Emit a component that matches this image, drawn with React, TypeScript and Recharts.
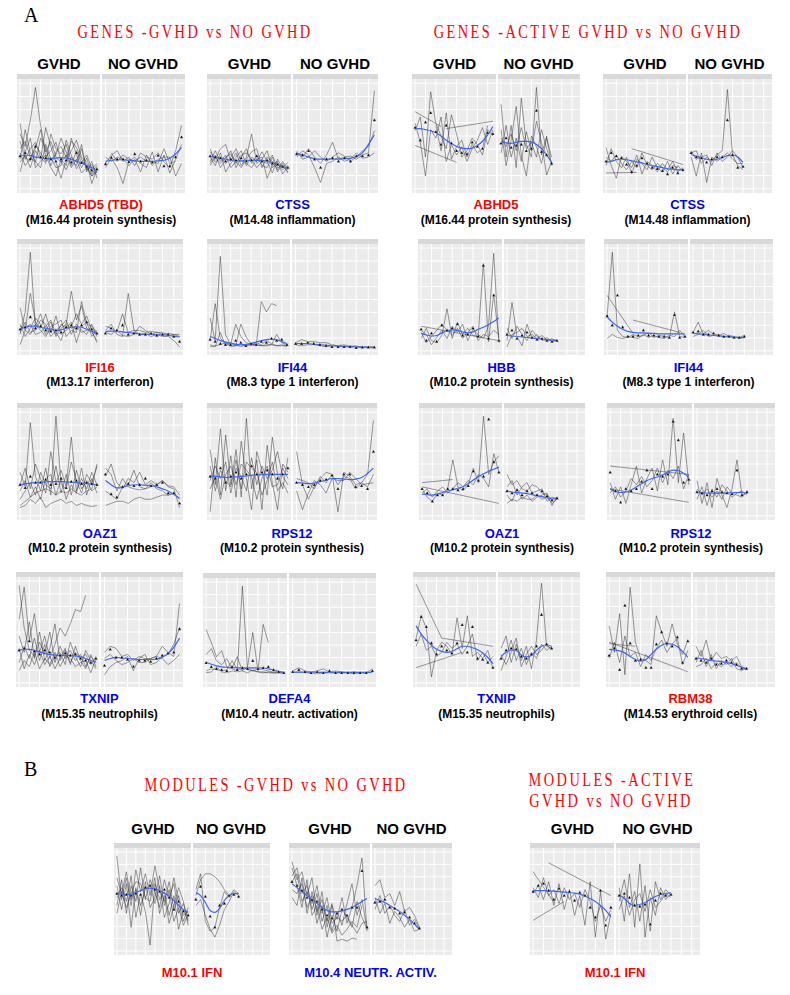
import React from 'react';
import { ComposedChart, Line, XAxis, YAxis, CartesianGrid } from 'recharts';

type Series = (number | null)[];
type FacetData = { lines: Series[]; mean: Series; fit: Series };

const _ = null;

// Expression on a 0-10 scale, one value per visit (index = visit slot).
// ---- ABHD5 (GVHD vs NO GVHD)
const abhd5GLines: Series[] = [
  [5.2, 4.0, 6.5, 9.6, 6.0, 3.5, 4.5, 3.0, 2.5, 3.2, 2.0, 2.8, 1.5, 2.0, 1.2, 1.6],
  [3.8, 4.5, 3.0, 2.5, 4.8, 3.8, 2.2, 3.5, 4.0, 3.0, 4.5, 3.9, 2.8, 2.0, 1.8, 1.3],
  [2.5, 3.2, 2.0, 3.6, 2.8, 5.8, 4.0, 2.5, 1.0, 2.8, 3.6, 4.6, 3.0, 2.5, 0.5, 1.9],
  [4.5, 2.8, 3.8, 4.4, 3.0, 2.4, 5.2, 3.8, 3.3, 4.2, 2.6, 2.2, 3.8, 1.8, 2.3, 1.5],
  [1.6, 3.5, 4.8, 2.0, 2.6, 3.2, 2.0, 1.2, 2.8, 2.2, 4.8, 3.2, 2.0, 2.9, 1.4, 2.2],
  [3.4, 2.2, 2.9, 3.8, 5.6, 3.0, 3.6, 4.4, 2.6, 1.8, 3.0, 2.5, 4.2, 1.6, 2.6, 1.0],
  [2.8, 5.6, 3.4, 2.6, 2.0, 4.2, 2.8, 3.2, 4.8, 3.5, 2.2, 3.6, 2.4, 3.2, 1.9, 2.4],
  [6.2, 3.0, 2.6, 4.2, 3.4, 2.6, 3.0, 2.0, 2.2, 4.6, 3.2, 1.9, 2.6, 2.2, 1.2, 2.0],
];
const abhd5GMean: Series = [3.1, 3.4, 2.85, 4.0, 3.0, 2.9, 2.8, 2.6, 2.8, 2.7, 2.5, 3.4, 2.45, 2.1, 1.75, 1.85];
const abhd5GFit: Series = [3.15, 3.2, 3.15, 3.0, 2.95, 2.85, 2.85, 2.9, 2.95, 2.9, 2.8, 2.6, 2.45, 2.2, 2.0, 1.6];
const abhd5NLines: Series[] = [
  [2.4, 3.2, 3.6, 2.6, 3.0, 2.2, 3.4, 3.0, 2.8, 3.4, 2.5, 2.0, 3.6, 6.0],
  [2.0, 2.9, 2.0, 0.5, 2.6, 3.0, 2.4, 2.0, 3.5, 1.6, 3.2, 1.5, 2.8, 4.2],
  [3.0, 2.6, 3.0, 2.8, 2.2, 2.8, 1.6, 3.2, 2.2, 2.8, 3.0, 3.0, 1.2, 2.4],
  [_, 3.4, 2.6, 3.2, 2.8, 2.6, 3.0, 2.6, 2.6, 2.4, 3.8, 2.4, 2.6, _],
];
const abhd5NMean: Series = [2.35, 2.95, 2.8, 2.8, 2.55, 3.3, 2.6, 2.7, 2.5, 3.15, 2.15, 2.15, 3.0, 4.9];
const abhd5NFit: Series = [2.6, 2.7, 2.75, 2.75, 2.7, 2.65, 2.6, 2.6, 2.6, 2.65, 2.7, 2.9, 3.3, 3.9];

// ---- CTSS
const ctssGLines: Series[] = [
  [3.5, 2.8, 3.8, 4.2, 2.6, 3.4, 2.2, 3.0, 5.2, 2.4, 2.8, 3.6, 2.0, 2.5, 1.8, 2.2],
  [2.4, 3.2, 2.0, 2.8, 3.6, 2.0, 3.0, 3.8, 2.4, 3.2, 2.2, 2.0, 3.0, 1.6, 2.4, 1.5],
  [3.0, 2.2, 3.4, 1.6, 2.4, 3.0, 3.6, 2.2, 3.0, 2.6, 3.5, 2.6, 1.5, 2.8, 2.0, 2.5],
  [2.6, 3.6, 2.6, 3.2, 2.0, 2.6, 2.0, 2.8, 3.5, 3.8, 2.0, 3.0, 2.6, 1.8, 2.6, 1.8],
  [3.8, 2.5, 3.0, 2.4, 3.0, 3.8, 2.6, 2.4, 2.0, 2.8, 3.0, 1.0, 2.2, 2.6, 1.4, 2.1],
  [2.2, 3.0, 2.4, 3.0, 3.3, 2.4, 3.2, 3.4, 2.8, 2.0, 2.6, 2.4, 3.2, 2.0, 2.2, 1.6],
];
const ctssGMean: Series = [3.1, 3.0, 2.9, 2.6, 2.8, 2.7, 2.9, 2.6, 2.7, 3.1, 2.6, 2.7, 2.4, 2.3, 2.1, 2.0];
const ctssGFit: Series = [3.1, 3.0, 2.9, 2.8, 2.7, 2.65, 2.65, 2.7, 2.7, 2.7, 2.7, 2.6, 2.5, 2.3, 2.1, 1.9];
const ctssNLines: Series[] = [
  [3.4, 3.0, 3.8, 3.0, 2.4, 3.2, 4.4, 2.8, 3.0, 3.1, 2.8, 3.2, 3.4, 9.3],
  [3.0, 3.6, 3.2, 2.0, 0.6, 2.4, 2.6, 3.0, 2.6, 2.8, 3.4, 2.9, 3.0, 3.4],
  [3.6, 2.8, 3.0, 3.6, 3.0, 2.6, 3.0, 3.4, 3.1, 2.6, 3.0, 3.6, 4.0, 5.5],
];
const ctssNMean: Series = [3.3, 3.2, 3.6, 2.8, 2.0, 2.8, 2.9, 2.6, 2.9, 2.6, 3.1, 3.1, 3.2, 6.5];
const ctssNFit: Series = [3.35, 3.2, 3.0, 2.85, 2.8, 2.8, 2.8, 2.8, 2.85, 2.9, 3.05, 3.4, 4.2, 5.1];

// ---- ABHD5 (active GVHD)
const abhd5aGLines: Series[] = [
  [7.3, _, _, _, _, 5.9],
  [4.1, _, _, _, _, _, _, _, 2.5],
  [_, _, _, _, _, _, 5.7, _, _, _, _, _, _, _, _, 6.4],
  [5.5, 6.8, 3.0, 9.2, 6.2, 5.0, 3.8, 7.0, 5.2, 3.0, 3.6, 4.8, 4.2, 3.2, 5.6, 5.0],
  [6.2, 4.4, 1.2, 5.6, 4.8, 6.8, 2.6, 4.2, 3.2, 4.0, 2.6, 3.8, 4.6, 5.8, 4.2, 5.6],
  [_, _, _, _, 6.0, 3.6, 7.2, 2.8, 4.0, 4.6, 3.0, 4.2, 3.4, 3.8, 6.0],
];
const abhd5aGMean: Series = [5.8, 4.6, 6.3, 7.2, 5.4, 4.2, 6.0, 4.3, 3.6, 3.4, 3.3, 4.4, 4.0, 3.8, 5.3, 5.2];
const abhd5aGFit: Series = [5.7, 5.7, 5.6, 5.5, 5.3, 5.0, 4.6, 4.3, 4.0, 3.85, 3.8, 3.85, 4.1, 4.5, 5.1, 5.9];
const abhd5aNLines: Series[] = [
  [8.0, 3.0, 6.0, 2.0, 8.6, 4.2, 3.0, 9.6, 3.2, 5.0, 2.2],
  [5.6, 2.2, 4.6, 7.8, 3.2, 1.2, 5.0, 4.0, 2.4, 4.8, 3.0],
  [3.4, 6.0, 3.0, 4.8, 2.6, 5.4, 3.6, 6.4, 4.4, 1.3, 2.6],
  [4.8, 4.0, 5.2, 3.6, 5.8, 3.8, 4.4, 3.0, 5.6, 3.8, 2.4],
];
const abhd5aNMean: Series = [4.3, 4.8, 3.9, 4.1, 4.2, 3.6, 3.8, 7.4, 3.5, 3.2, 2.4];
const abhd5aNFit: Series = [4.5, 4.35, 4.3, 4.4, 4.5, 4.5, 4.45, 4.2, 3.8, 3.2, 2.5];

// ---- CTSS (active GVHD)
const ctssaGLines: Series[] = [
  [1.5, _, _, _, _, _, 1.55],
  [_, _, _, _, _, 3.8, _, _, _, _, _, _, _, _, _, 2.3],
  [3.9, 2.2, 1.0, 3.1, 2.6, 2.0, 3.2, 1.4, 2.6, 2.2, 1.6, 2.4, 1.8, 2.6, 1.6, 2.0],
  [2.2, 3.8, 2.6, 2.0, 3.0, 1.4, 2.8, 2.4, 1.8, 3.0, 2.0, 1.6, 2.6, 1.4, 2.2, 1.6],
  [3.0, 2.6, 3.2, 2.4, 1.8, 2.6, 2.0, 3.4, 2.2, 1.8, 2.4, 2.0, 1.6, 2.2, 2.0],
];
const ctssaGMean: Series = [2.6, 3.4, 3.1, 2.9, 2.3, 1.6, 2.2, 2.9, 2.4, 2.0, 1.9, 1.7, 1.4, 2.0, 1.5, 1.8];
const ctssaGFit: Series = [2.5, 2.6, 2.75, 2.8, 2.75, 2.65, 2.55, 2.45, 2.3, 2.2, 2.1, 2.0, 1.9, 1.85, 1.8, 1.8];
const ctssaNLines: Series[] = [
  [3.4, 3.6, 2.4, 3.0, 2.6, 3.2, 3.6, 9.4, 3.2, 2.2, 1.8],
  [3.0, 1.2, 3.4, 0.6, 3.0, 2.6, 3.0, 3.4, 2.8, 2.4, 2.4],
  [3.6, 2.8, 3.0, 3.2, 2.2, 3.4, 2.6, 3.0, 3.6, 3.0, 2.0],
];
const ctssaNMean: Series = [3.4, 3.0, 2.9, 2.5, 2.8, 3.0, 3.0, 6.5, 3.2, 2.0, 2.1];
const ctssaNFit: Series = [3.25, 3.1, 2.95, 2.8, 2.75, 2.8, 2.95, 3.15, 3.2, 3.0, 2.5];

// ---- IFI16
const ifi16GLines: Series[] = [
  [1.6, 3.8, 9.6, 2.4, 3.6, 2.0, 2.8, 1.4, 2.2, 2.6, 5.8, 3.0, 4.4, 2.2, 1.8, 1.0],
  [4.2, 2.0, 5.6, 2.8, 2.2, 3.6, 1.8, 3.4, 1.6, 2.0, 2.4, 3.6, 2.6, 3.4, 2.0, 0.8],
  [2.6, 1.4, 2.2, 3.2, 2.6, 1.6, 2.4, 2.6, 3.0, 1.4, 2.0, 1.8, 4.8, 2.6, 2.4, 1.8],
  [1.8, 2.8, 1.8, 2.0, 3.0, 2.6, 1.4, 2.0, 2.4, 3.0, 1.6, 2.6, 2.0, 1.6, 2.6, 1.4],
  [2.4, 2.2, 2.6, 1.6, 1.8, 2.4, 3.0, 1.6, 2.6, 2.2, 2.8, 0.8, 2.4, 2.8, 1.4, 2.0],
  [0.6, 2.0, 1.6, 2.6, 2.0, 1.4, 2.2, 1.8, 1.0, 2.6, 2.2, 2.4, 1.8, 2.0, 2.2, 1.6],
];
const ifi16GMean: Series = [2.1, 2.3, 3.3, 2.2, 2.4, 2.0, 1.9, 2.0, 1.8, 2.3, 2.5, 2.2, 2.5, 2.8, 2.1, 1.7];
const ifi16GFit: Series = [2.1, 2.3, 2.4, 2.4, 2.3, 2.2, 2.1, 2.0, 2.05, 2.2, 2.3, 2.35, 2.3, 2.1, 1.9, 1.7];
const ifi16NLines: Series[] = [
  [2.4, 2.2, 1.8, 3.6, 1.8, 2.0, 2.0, 1.8, 1.9, 1.8, 1.6, 1.7, 1.6, 1.6],
  [2.0, 2.6, 1.6, 1.4, 5.6, 2.0, 1.6, 1.7, 1.4, 1.6, 1.4, 1.4, 1.0, 0.4],
  [1.8, 1.6, 2.0, 1.5, 1.4, 1.6, 2.4, 2.0, 1.6, 1.8, 1.8, 1.5, 1.6, 1.4],
];
const ifi16NMean: Series = [1.7, 2.2, 2.0, 2.5, 1.6, 1.7, 1.6, 1.6, 1.7, 1.5, 1.6, 1.6, 1.4, 0.9];
const ifi16NFit: Series = [1.9, 1.92, 1.9, 1.85, 1.8, 1.72, 1.65, 1.6, 1.6, 1.58, 1.55, 1.5, 1.42, 1.35];

// ---- IFI44
const ifi44GLines: Series[] = [
  [3.2, 1.0, 9.2, 1.6, 0.6, 0.5, 2.6, 1.4, 0.6, 0.6, 0.5, 0.5, 0.6, 0.5, 0.5, 0.5],
  [1.0, 4.6, 1.2, 0.8, 0.6, 2.6, 1.4, 0.8, 0.6, 0.5, 4.8, 3.8, 4.6, 4.4],
  [0.4, 0.5, 0.6, 0.8, 0.4, 0.5, 0.6, 0.5, 0.7, 0.6, 0.5, 0.6, 0.6, 1.6, 0.8, 0.5],
  [0.6, 0.4, 1.8, 0.5, 0.8, 0.6, 0.4, 0.6, 0.5, 0.8, 0.6, 1.0, 0.7, 0.5, 0.6, 0.4],
];
const ifi44GMean: Series = [1.1, 0.9, 0.7, 0.6, 0.6, 1.0, 0.8, 0.5, 0.7, 0.6, 0.9, 0.8, 1.2, 1.0, 1.1, 0.6];
const ifi44GFit: Series = [1.4, 1.2, 1.0, 0.85, 0.75, 0.65, 0.6, 0.62, 0.7, 0.85, 1.0, 1.1, 1.15, 1.1, 0.9, 0.7];
const ifi44NLines: Series[] = [
  [0.8, 1.1, 0.9, 0.9, 0.8, 0.8, 0.6, 0.5, 0.4, 0.5, 0.4, 0.4, 0.3, 0.3],
  [0.6, 0.5, 0.6, 0.6, 0.5, 0.4, 0.5, 0.5, 0.6, 0.4, 0.5, 0.3, 0.4, 0.4],
];
const ifi44NMean: Series = [0.7, 0.7, 0.8, 0.7, 0.6, 0.5, 0.4, 0.4, 0.4, 0.4, 0.3, 0.35, 0.35, 0.35];
const ifi44NFit: Series = [0.72, 0.72, 0.7, 0.65, 0.6, 0.55, 0.5, 0.46, 0.43, 0.4, 0.38, 0.37, 0.36, 0.35];

// ---- HBB (active GVHD)
const hbbaGLines: Series[] = [
  [2.4, _, _, _, _, _, _, _, _, _, _, _, _, _, _, 1.0],
  [1.2, 2.2, 1.0, 0.8, 1.5, 4.1, 1.2, 2.8, 1.6, 2.2, 1.5, 1.4, 8.5, 0.9, 5.5, 1.2],
  [2.0, 1.6, 0.6, 1.3, 2.0, 1.2, 2.4, 1.8, 2.6, 1.0, 2.1, 1.6, 1.2, 2.4, 9.5, 0.8],
  [1.8, 0.8, 1.4, 2.0, 2.6, 2.0, 1.5, 2.2, 1.2, 1.8, 2.4, 1.0, 1.6, 1.4, 2.0, 1.6],
];
const hbbaGMean: Series = [2.1, 1.0, 1.7, 0.9, 2.5, 2.0, 2.2, 2.6, 1.5, 1.6, 2.2, 1.4, 8.3, 1.2, 5.4, 1.0];
const hbbaGFit: Series = [1.7, 1.55, 1.45, 1.5, 1.75, 1.95, 2.05, 2.0, 1.85, 1.75, 1.85, 2.1, 2.3, 2.55, 2.85, 3.2];
const hbbaNLines: Series[] = [
  [1.0, 4.7, 1.4, 0.5, 2.6, 1.2, 1.6, 1.0, 1.3, 0.9, 1.0],
  [2.2, 1.2, 2.4, 1.6, 1.0, 2.0, 1.4, 1.1, 1.0, 1.2, 0.9],
  [0.4, 1.6, 1.8, 2.2, 1.4, 1.6, 1.2, 1.5, 1.1, 1.0, 1.1],
];
const hbbaNMean: Series = [1.6, 2.0, 1.2, 1.5, 1.8, 1.3, 1.1, 1.2, 1.0, 0.9, 1.0];
const hbbaNFit: Series = [1.5, 1.45, 1.4, 1.35, 1.3, 1.25, 1.2, 1.15, 1.1, 1.05, 1.0];

// ---- IFI44 (active GVHD)
const ifi44aGLines: Series[] = [
  [5.4, _, _, _, _, 1.7],
  [_, _, _, _, _, 3.0, _, _, _, _, _, _, _, _, 1.8],
  [3.4, 9.6, 2.0, 1.4, 1.3, 1.6, 1.4, 1.5, 1.8, 1.3, 1.5, 1.4, 1.3, 3.8, 1.4, 1.3],
  [1.2, 1.6, 1.3, 1.2, 1.4, 1.3, 1.2, 1.6, 1.3, 1.5, 1.3, 1.2, 1.5, 1.4, 2.0, 1.4],
];
const ifi44aGMean: Series = [3.4, 2.5, 5.4, 2.3, 1.4, 1.4, 1.5, 2.0, 1.5, 1.5, 1.4, 1.4, 1.3, 3.5, 1.3, 1.4];
const ifi44aGFit: Series = [3.3, 2.8, 2.4, 2.1, 1.9, 1.8, 1.75, 1.75, 1.7, 1.7, 1.65, 1.65, 1.65, 1.65, 1.65, 1.65];
const ifi44aNLines: Series[] = [
  [1.8, 2.8, 1.6, 2.0, 1.6, 1.5, 1.7, 1.4, 1.3, 1.3, 1.5],
  [1.4, 1.6, 2.0, 1.4, 1.5, 1.6, 1.3, 1.5, 1.4, 1.2, 1.3],
];
const ifi44aNMean: Series = [1.8, 1.9, 1.6, 1.6, 1.7, 1.5, 1.4, 1.4, 1.3, 1.3, 1.4];
const ifi44aNFit: Series = [1.7, 1.65, 1.6, 1.55, 1.5, 1.45, 1.4, 1.38, 1.35, 1.32, 1.3];

// ---- OAZ1
const oaz1GLines: Series[] = [
  [4.2, 2.8, 9.0, 3.8, 2.4, 4.6, 2.0, 9.6, 3.0, 2.6, 5.2, 3.4, 2.2, 4.0, 3.2, 4.8],
  [3.0, 4.6, 2.6, 5.0, 3.6, 2.2, 6.2, 3.2, 4.4, 2.8, 7.6, 2.4, 3.6, 2.6, 4.2, 3.0],
  [1.6, 2.4, 3.2, 2.0, 4.2, 3.0, 2.6, 4.8, 2.2, 4.0, 2.0, 4.4, 2.6, 3.4, 2.4, 2.8],
  [2.4, 3.4, 1.8, 2.8, 1.6, 3.6, 4.0, 2.0, 3.6, 1.6, 3.0, 2.2, 4.6, 2.0, 3.6, 2.2],
  [1.0, 1.4, 1.8, 2.2, 2.4, 2.6, 2.4, 2.0, 2.4, 2.2, 2.6, 2.2, 2.0, 2.4, 2.6, 5.0],
  [0.8, 1.0, 1.6, 1.2, 1.8, 0.8, 1.2, 1.4, 1.6, 1.2, 1.4, 1.0, 1.2, 1.0, 0.9, 1.0],
];
const oaz1GMean: Series = [3.0, 2.7, 3.8, 3.2, 3.2, 3.5, 3.0, 3.1, 3.6, 2.7, 3.3, 3.4, 3.1, 3.2, 3.1, 3.0];
const oaz1GFit: Series = [3.0, 3.1, 3.15, 3.2, 3.25, 3.28, 3.3, 3.3, 3.3, 3.28, 3.25, 3.2, 3.15, 3.1, 3.05, 3.0];
const oaz1NLines: Series[] = [
  [4.6, 4.0, 2.4, 3.6, 2.8, 2.6, 2.5, 2.6, 2.8, 3.0, 3.4, 2.9, 2.8, 2.0],
  [2.4, 2.0, 1.6, 2.8, 3.0, 4.4, 2.8, 2.6, 3.2, 2.6, 2.4, 2.0, 2.2, 1.6],
  [1.0, 1.2, 1.4, 1.4, 1.2, 1.6, 1.8, 1.6, 1.6, 1.8, 2.0, 2.0, 2.2],
  [3.8, 5.0, 3.2, 2.6, 3.6, 3.2, 4.2, 3.0, 3.4, 3.0, 3.4, 2.8, 2.6, 0.8],
];
const oaz1NMean: Series = [4.0, 2.1, 1.8, 2.8, 3.1, 2.9, 3.0, 3.6, 2.9, 3.0, 3.2, 2.2, 2.2, 1.2];
const oaz1NFit: Series = [3.4, 3.0, 2.7, 2.75, 2.9, 3.0, 3.0, 2.95, 2.9, 2.8, 2.6, 2.4, 2.05, 1.7];

// ---- RPS12
const rps12GLines: Series[] = [
  [0.4, 5.6, 2.0, 7.8, 3.0, 6.4, 1.8, 9.4, 2.6, 5.4, 0.6, 6.8, 3.2, 0.6, 5.0, 4.2],
  [6.4, 3.0, 8.4, 2.4, 5.8, 1.8, 7.2, 3.6, 0.6, 6.2, 4.4, 2.0, 7.6, 4.0, 2.6, 5.6],
  [3.4, 4.8, 3.6, 5.2, 2.2, 4.6, 3.8, 2.4, 5.6, 3.0, 4.8, 3.6, 4.4, 6.2, 3.8, 3.0],
  [2.6, 3.8, 1.6, 4.0, 4.8, 3.0, 5.0, 4.4, 3.8, 1.6, 3.6, 4.8, 2.8, 3.0, 4.6, 3.6],
  [4.8, 2.4, 4.4, 3.4, 2.8, 5.4, 2.6, 5.2, 4.6, 4.2, 2.0, 3.4, 5.2, 2.4, 3.2, 2.2],
];
const rps12GMean: Series = [3.8, 3.6, 4.6, 3.2, 3.8, 4.2, 3.6, 4.0, 4.8, 4.0, 4.2, 4.4, 4.0, 3.6, 4.0, 4.6];
const rps12GFit: Series = [3.85, 3.8, 3.75, 3.7, 3.72, 3.75, 3.8, 3.85, 3.9, 3.95, 3.97, 4.0, 4.0, 4.0, 4.0, 4.0];
const rps12NLines: Series[] = [
  [6.2, 3.0, 1.6, 2.8, 3.6, 4.2, 4.0, 0.4, 4.2, 3.8, 3.0, 3.2, 4.0, 9.2],
  [2.4, 0.6, 2.2, 3.4, 3.0, 2.2, 3.6, 3.4, 3.4, 4.2, 3.6, 3.0, 3.1, 3.2],
  [3.6, 3.4, 3.2, 2.6, 3.8, 3.2, 4.0, 3.0, 3.8, 3.6, 2.6, 3.2, 2.8, 4.0],
];
const rps12NMean: Series = [3.2, 3.0, 2.8, 3.0, 3.4, 3.5, 3.9, 2.6, 4.0, 4.0, 2.8, 2.9, 2.6, 6.2];
const rps12NFit: Series = [3.2, 3.15, 3.1, 3.15, 3.3, 3.45, 3.6, 3.6, 3.55, 3.5, 3.55, 3.7, 4.1, 4.6];

// ---- OAZ1 (active GVHD)
const oaz1aGLines: Series[] = [
  [3.2, _, _, _, _, _, 3.5],
  [2.8, _, _, _, _, _, _, _, _, _, _, _, _, _, _, 1.2],
  [2.6, 1.8, 1.4, 2.2, 2.0, 2.6, 5.4, 2.8, 2.4, 3.0, 4.6, 3.2, 9.6, 4.0, 5.2, 5.8],
  [2.2, 2.6, 1.8, 2.4, 2.8, 2.2, 2.6, 3.2, 2.8, 3.4, 3.0, 4.0, 3.6, 2.8, 6.0, 4.2],
];
const oaz1aGMean: Series = [2.6, 2.2, 1.4, 2.0, 2.0, 2.6, 2.6, 2.5, 2.6, 2.9, 4.3, 3.4, 3.8, 9.3, 5.2, 4.2];
const oaz1aGFit: Series = [2.1, 2.05, 2.0, 2.1, 2.25, 2.4, 2.5, 2.65, 2.8, 3.1, 3.45, 3.8, 4.05, 4.3, 4.5, 4.7];
const oaz1aNLines: Series[] = [
  [4.0, 3.0, 3.4, 2.6, 2.4, 3.0, 2.8, 2.2, 2.0, 1.6, 1.8],
  [2.8, 3.4, 2.0, 2.8, 3.2, 2.2, 2.4, 2.6, 1.4, 1.8, 1.6],
  [1.2, 1.6, 1.4, 1.8, 1.6, 1.6, 2.0, 1.6, 1.8, 1.2, 1.6],
  [2.0, 1.4, 2.6, 1.6, 2.0, 1.4, 1.8, 2.0, 2.2, 1.0, 1.8],
];
const oaz1aNMean: Series = [2.4, 2.2, 2.5, 2.0, 2.4, 2.2, 2.0, 2.4, 1.9, 1.5, 1.7];
const oaz1aNFit: Series = [2.4, 2.3, 2.25, 2.2, 2.15, 2.05, 1.95, 1.85, 1.75, 1.65, 1.6];

// ---- RPS12 (active GVHD)
const rps12aGLines: Series[] = [
  [4.8, _, _, _, _, _, _, _, _, _, _, _, _, _, _, 4.0],
  [2.6, _, _, _, _, _, _, _, _, _, _, _, _, _, _, 1.3],
  [3.2, 1.6, 2.8, 1.2, 3.0, 4.8, 2.2, 3.6, 4.6, 2.4, 5.4, 3.0, 9.4, 3.2, 8.0, 3.0],
  [2.2, 2.8, 1.8, 2.4, 3.6, 3.0, 3.8, 2.8, 3.4, 4.6, 3.2, 4.4, 3.6, 4.8, 2.6, 4.0],
];
const rps12aGMean: Series = [4.2, 2.4, 1.3, 2.6, 2.4, 2.6, 3.3, 4.4, 2.6, 4.0, 3.8, 4.0, 9.1, 7.3, 3.2, 3.5];
const rps12aGFit: Series = [2.6, 2.35, 2.25, 2.3, 2.5, 2.8, 3.1, 3.4, 3.6, 3.75, 3.95, 4.2, 4.4, 4.35, 4.1, 3.7];
const rps12aNLines: Series[] = [
  [3.4, 1.2, 3.2, 0.8, 3.6, 2.0, 0.8, 2.6, 5.4, 2.0, 2.2],
  [1.6, 2.8, 1.0, 2.6, 1.8, 3.0, 2.4, 1.8, 2.2, 2.4, 2.0],
  [2.6, 2.0, 2.6, 1.8, 2.4, 1.6, 2.8, 2.2, 2.0, 1.8, 2.4],
];
const rps12aNMean: Series = [2.3, 2.2, 2.0, 2.4, 2.6, 2.3, 2.2, 2.1, 4.4, 2.0, 2.3];
const rps12aNFit: Series = [2.3, 2.25, 2.2, 2.2, 2.2, 2.2, 2.2, 2.25, 2.25, 2.25, 2.2];

// ---- TXNIP
const txnipGLines: Series[] = [
  [9.6, 5.4, 3.2, 2.6, 4.0, 2.8, 5.0, 2.0, 3.6, 2.4, 3.2, 2.2, 2.8, 1.6, 2.6, 2.0],
  [6.2, 9.4, 4.2, 6.8, 3.0, 4.6, 2.4, 3.8, 5.4, 4.6, 5.8, 7.2, 7.0, 8.6],
  [4.6, 3.0, 6.0, 2.4, 5.0, 2.2, 3.4, 5.8, 2.2, 3.2, 2.0, 3.0, 2.4, 2.8, 1.8, 2.6],
  [2.0, 3.6, 2.4, 4.4, 2.2, 3.8, 1.6, 2.6, 3.0, 1.8, 4.0, 2.6, 1.6, 3.2, 2.2, 1.4],
  [3.4, 1.4, 2.8, 1.8, 3.2, 1.8, 2.6, 1.4, 2.4, 3.4, 1.8, 3.6, 2.2, 1.4, 2.8, 1.6],
  [1.2, 2.2, 1.6, 3.0, 1.4, 2.4, 1.8, 3.0, 1.6, 2.6, 2.4, 1.6, 2.0, 2.2, 1.0, 2.4],
];
const txnipGMean: Series = [3.2, 3.4, 4.1, 3.1, 2.8, 3.2, 3.0, 2.5, 2.7, 2.9, 2.7, 2.8, 2.4, 2.2, 2.0, 2.4];
const txnipGFit: Series = [3.25, 3.3, 3.3, 3.2, 3.05, 2.9, 2.8, 2.72, 2.7, 2.7, 2.7, 2.65, 2.55, 2.4, 2.2, 2.05];
const txnipNLines: Series[] = [
  [3.0, 3.6, 3.4, 2.6, 2.8, 2.2, 2.6, 2.4, 2.4, 2.6, 3.6, 3.0, 2.6, 7.8],
  [0.8, 1.6, 2.0, 2.2, 2.6, 1.2, 2.4, 2.8, 1.8, 2.0, 2.6, 2.8, 3.8, 5.4],
  [2.4, 2.8, 2.2, 1.8, 2.0, 2.4, 2.0, 2.0, 2.4, 2.6, 2.4, 1.8, 2.2, 2.8],
];
const txnipNMean: Series = [1.7, 3.3, 2.5, 2.5, 2.3, 1.6, 2.2, 2.2, 2.1, 2.4, 2.7, 2.9, 3.0, 5.3];
const txnipNFit: Series = [2.2, 2.4, 2.5, 2.45, 2.4, 2.35, 2.3, 2.3, 2.3, 2.35, 2.5, 2.9, 3.5, 4.4];

// ---- DEFA4
const defa4GLines: Series[] = [
  [5.3, 4.0, 2.6, 3.2, 1.6, 1.4, 1.2, 9.6, 1.3, 1.2, 1.1, 1.1, 1.0, 1.0, 1.0, 1.0],
  [2.8, 3.4, 2.2, 1.8, 2.4, 1.4, 2.6, 1.2, 1.6, 5.0, 1.2, 5.8, 4.0],
  [1.2, 1.4, 1.3, 1.2, 1.3, 2.2, 1.4, 1.3, 1.5, 1.2, 1.4, 1.3, 1.2, 1.1, 1.1, 1.0],
  [1.0, 1.1, 1.6, 1.1, 1.0, 1.2, 1.1, 1.2, 1.0, 1.3, 1.1, 1.0, 1.1, 1.0, 1.0, 1.0],
];
const defa4GMean: Series = [2.0, 1.6, 1.4, 1.3, 1.2, 1.6, 1.3, 1.5, 1.4, 2.2, 1.4, 1.5, 1.6, 1.3, 1.1, 1.0];
const defa4GFit: Series = [2.05, 1.85, 1.7, 1.6, 1.55, 1.52, 1.5, 1.5, 1.5, 1.5, 1.5, 1.48, 1.4, 1.28, 1.15, 1.05];
const defa4NLines: Series[] = [
  [1.2, 1.5, 1.2, 1.1, 1.2, 1.4, 1.1, 1.2, 1.1, 1.0, 1.1, 1.0, 1.0, 1.4],
  [1.0, 1.1, 1.0, 1.0, 0.9, 1.0, 1.0, 1.0, 1.0, 1.0, 0.9, 1.0, 1.0, 1.1],
];
const defa4NMean: Series = [1.1, 1.3, 1.1, 1.0, 1.1, 1.0, 1.2, 1.0, 1.0, 1.0, 1.0, 1.0, 1.0, 1.2];
const defa4NFit: Series = [1.08, 1.07, 1.07, 1.06, 1.06, 1.05, 1.05, 1.05, 1.05, 1.04, 1.04, 1.04, 1.04, 1.05];

// ---- TXNIP (active GVHD)
const txnipaGLines: Series[] = [
  [9.7, _, _, _, _, 4.4, _, _, _, _, _, _, _, _, _, 3.6],
  [1.5, _, _, _, _, _, _, _, _, 3.0],
  [4.4, 6.6, 5.4, 0.6, 3.2, 4.0, 3.6, 2.8, 6.4, 3.4, 6.6, 2.6, 3.0, 2.4, 3.2, 1.4],
  [3.6, 4.8, 3.2, 3.6, 2.6, 3.0, 4.0, 3.4, 3.8, 2.8, 3.6, 4.8, 2.2, 3.0, 2.0, 2.6],
];
const txnipaGMean: Series = [4.2, 6.5, 5.5, 3.9, 2.8, 3.6, 3.2, 2.9, 3.9, 5.7, 3.0, 5.5, 2.4, 2.3, 2.0, 1.5];
const txnipaGFit: Series = [5.6, 4.8, 4.2, 3.7, 3.3, 3.1, 3.0, 3.1, 3.35, 3.6, 3.6, 3.45, 3.25, 2.95, 2.5, 1.9];
const txnipaNLines: Series[] = [
  [3.4, 4.6, 2.0, 3.8, 2.2, 3.6, 1.4, 4.2, 9.8, 3.6, 3.4],
  [1.2, 2.6, 4.2, 2.2, 3.4, 1.8, 3.0, 2.4, 3.8, 3.2, 3.6],
  [2.8, 1.8, 3.0, 4.4, 1.6, 2.8, 3.6, 2.8, 3.2, 3.8, 3.2],
];
const txnipaNMean: Series = [2.4, 3.2, 3.4, 3.3, 2.6, 2.4, 2.8, 3.6, 6.7, 3.8, 3.4];
const txnipaNFit: Series = [2.6, 3.0, 3.25, 3.2, 2.75, 2.55, 2.7, 3.2, 3.6, 3.75, 3.6];

// ---- RBM38 (active GVHD)
const rbm38aGLines: Series[] = [
  [3.85, _, _, _, _, 3.6],
  [4.0, _, _, _, _, _, _, _, _, _, _, _, _, _, _, 1.1],
  [5.6, 3.0, 6.8, 0.8, 9.4, 4.0, 2.4, 2.2, 1.8, 6.6, 5.0, 3.6, 5.8, 3.8, 2.8, 4.2],
  [2.4, 4.0, 2.0, 4.6, 2.6, 3.0, 1.6, 2.8, 2.2, 3.4, 4.2, 3.0, 3.8, 4.4, 1.8, 3.2],
];
const rbm38aGMean: Series = [2.7, 3.4, 1.3, 7.6, 3.9, 2.2, 2.3, 1.5, 1.5, 3.8, 5.0, 3.9, 3.6, 4.5, 2.0, 4.1];
const rbm38aGFit: Series = [3.3, 3.25, 3.15, 2.95, 2.6, 2.3, 2.15, 2.3, 2.8, 3.3, 3.7, 3.85, 3.8, 3.55, 3.1, 2.5];
const rbm38aNLines: Series[] = [
  [3.6, 2.6, 4.2, 2.2, 3.0, 2.4, 2.6, 2.2, 2.6, 1.6, 1.4],
  [2.0, 3.2, 1.6, 2.8, 1.4, 2.2, 1.8, 2.4, 1.4, 1.2, 1.5],
  [1.6, 1.8, 2.4, 1.4, 2.0, 1.6, 2.0, 1.6, 2.0, 1.4, 1.3],
];
const rbm38aNMean: Series = [2.4, 2.2, 2.0, 2.4, 1.8, 1.9, 2.2, 2.0, 1.8, 1.4, 1.4];
const rbm38aNFit: Series = [2.45, 2.4, 2.3, 2.2, 2.15, 2.1, 2.0, 1.9, 1.75, 1.55, 1.35];

// ---- Module M10.1 IFN
const m101GLines: Series[] = [
  [9.6, 5.2, 7.4, 4.6, 8.2, 6.0, 7.8, 5.6, 8.6, 6.2, 5.0, 7.0, 4.2, 5.6, 3.6, 4.0],
  [4.6, 7.2, 3.8, 6.6, 5.0, 8.4, 5.2, 7.2, 6.0, 4.4, 7.2, 5.4, 6.8, 3.8, 4.8, 3.2],
  [6.6, 4.2, 6.8, 2.4, 6.4, 3.6, 7.0, 4.4, 5.4, 7.6, 4.6, 6.2, 3.0, 4.4, 2.6, 3.8],
  [5.4, 6.4, 5.0, 7.6, 3.4, 5.8, 4.0, 0.6, 6.8, 5.2, 6.0, 3.6, 5.6, 2.2, 4.2, 3.0],
  [7.4, 5.8, 8.0, 5.2, 6.2, 4.6, 6.2, 6.6, 4.8, 6.6, 3.4, 4.8, 7.4, 5.0, 3.0, 4.4],
  [3.8, 6.0, 4.4, 5.8, 7.0, 6.8, 5.4, 5.0, 7.4, 3.8, 5.6, 2.8, 4.6, 6.4, 5.0, 2.6],
];
const m101GMean: Series = [5.8, 5.6, 5.7, 5.6, 5.8, 5.7, 6.4, 6.6, 6.2, 6.0, 6.2, 5.4, 4.2, 5.0, 4.0, 3.6];
const m101GFit: Series = [5.8, 5.75, 5.7, 5.75, 5.9, 6.1, 6.3, 6.35, 6.3, 6.1, 5.85, 5.5, 5.1, 4.6, 4.2, 3.9];
const m101NLines: Series[] = [
  [6.2, 7.8, 3.0, 2.0, 2.4, 4.4, 6.0, 5.4, 6.2, 5.8],
  [5.6, 7.2, 7.8, 7.8, 7.5, 7.0, 6.2, 5.6],
  [4.6, 5.2, 3.6, 2.2, 1.4, 2.6, 4.2, 5.0, 6.0, 5.6],
];
const m101NMean: Series = [5.2, 6.5, 5.5, 3.5, 2.4, 4.6, 4.8, 5.6, 5.7, 5.5];
const m101NFit: Series = [5.9, 5.6, 4.9, 4.1, 3.9, 4.3, 5.1, 5.6, 5.8, 5.8];

// ---- Module M10.4 neutrophil activation
const m104GLines: Series[] = [
  [9.0, 7.2, 8.0, 5.6, 7.4, 3.6, 6.0, 2.4, 4.6, 3.2, 5.4, 2.8, 4.4, 6.6, 9.4, 2.0],
  [7.6, 8.4, 5.8, 6.6, 4.2, 5.8, 3.0, 4.6, 2.0, 4.0, 2.6, 4.8, 6.8, 3.6, 5.2, 2.2],
  [6.2, 5.8, 6.8, 4.4, 5.6, 2.8, 4.6, 1.4, 3.6, 2.0, 4.2, 3.4, 2.4, 5.0, 3.4, 2.2],
  [8.4, 6.6, 4.4, 7.2, 3.6, 4.6, 2.2, 3.4, 1.8, 2.6, 1.6, 2.2, 3.0, 2.4, 4.6],
  [5.4, 4.6, 7.4, 3.8, 6.0, 4.0, 5.2, 3.0, 4.8, 1.0, 1.2, 1.0, 1.3, 1.2],
  [7.0, 7.8, 5.0, 6.0, 4.8, 6.6, 3.8, 5.4, 2.8, 3.4, 3.0, 3.6, 2.6, 1.8, 2.8, 3.0],
];
const m104GMean: Series = [7.0, 6.6, 6.1, 5.4, 5.15, 5.0, 4.2, 3.6, 3.3, 3.8, 4.2, 3.6, 4.4, 4.4, 8.1, 2.4];
const m104GFit: Series = [6.8, 6.4, 6.0, 5.6, 5.2, 4.8, 4.4, 4.1, 3.95, 3.95, 4.05, 4.2, 4.4, 4.7, 5.0, 5.3];
const m104NLines: Series[] = [
  [6.6, 7.2, 5.4, 5.8, 4.6, 6.0, 4.0, 4.4, 3.6, 2.4],
  [4.2, 5.6, 3.8, 4.6, 3.6, 3.0, 4.2, 2.6, 3.2, 2.2],
  [5.4, 3.8, 4.8, 2.8, 4.0, 3.4, 2.4, 3.2, 2.0, 2.2],
];
const m104NMean: Series = [4.9, 5.0, 5.2, 4.4, 4.3, 3.8, 3.9, 3.4, 2.8, 2.3];
const m104NFit: Series = [5.3, 5.1, 4.9, 4.6, 4.3, 4.0, 3.6, 3.2, 2.7, 2.2];

// ---- Module M10.1 IFN (active GVHD)
const m101aGLines: Series[] = [
  [8.0, _, _, _, 4.9],
  [3.1, _, _, _, _, _, 5.0],
  [_, _, _, 8.9, _, _, _, _, _, _, _, _, _, _, _, 5.6],
  [5.8, 6.6, 5.2, 7.0, 4.6, 6.8, 4.2, 6.2, 3.6, 5.6, 2.6, 7.0, 1.4, 6.0, 1.2, 3.8],
  [6.4, 5.4, 7.4, 5.6, 6.2, 4.8, 6.4, 5.2, 5.8, 4.4, 6.2, 5.0, 3.0, 4.6, 3.0, 4.2],
];
const m101aGMean: Series = [6.0, 6.6, 6.8, 6.1, 5.2, 6.3, 5.6, 6.0, 5.1, 5.9, 5.6, 4.4, 3.4, 6.1, 2.6, 4.4];
const m101aGFit: Series = [6.1, 6.1, 6.1, 6.08, 6.05, 6.0, 5.95, 5.9, 5.85, 5.75, 5.55, 5.3, 5.0, 4.6, 4.1, 3.45];
const m101aNLines: Series[] = [
  [6.4, 3.0, 7.8, 2.4, 8.8, 1.4, 5.4, 3.6, 6.4, 5.2, 5.8],
  [5.0, 7.2, 4.4, 6.0, 3.0, 6.6, 2.0, 7.0, 5.2, 6.2, 5.6],
  [4.2, 5.6, 3.6, 5.2, 5.8, 4.0, 6.2, 4.4, 5.0, 5.8, 5.4],
];
const m101aNMean: Series = [5.6, 5.8, 5.4, 4.6, 4.5, 4.7, 2.7, 5.1, 5.8, 5.6, 5.7];
const m101aNFit: Series = [5.7, 5.3, 4.8, 4.6, 4.7, 4.9, 5.2, 5.5, 5.7, 5.8, 5.9];

const RED = '#ff0000';
const BLUE = '#0000ff';
const Y_DOMAIN: [number, number] = [-0.4, 10.4];
const Y_TICKS = [0, 1.25, 2.5, 3.75, 5, 6.25, 7.5, 8.75, 10];

type PanelSpec = {
  x0: number; x1: number; gap: number; y0: number; y1: number;
  slotsN: number;
  g: FacetData; n: FacetData;
  gene: string; color: string; desc?: string;
  geneY: number; descY?: number;
  header?: number;
};

const fd = (lines: Series[], mean: Series, fit: Series): FacetData => ({ lines, mean, fit });

const panels: PanelSpec[] = [
  { x0: 17, x1: 185, gap: 101, y0: 74, y1: 193, slotsN: 14, header: 63,
    g: fd(abhd5GLines, abhd5GMean, abhd5GFit), n: fd(abhd5NLines, abhd5NMean, abhd5NFit),
    gene: 'ABHD5 (TBD)', color: RED, desc: '(M16.44 protein synthesis)', geneY: 204, descY: 220 },
  { x0: 207, x1: 378, gap: 292, y0: 74, y1: 193, slotsN: 14, header: 63,
    g: fd(ctssGLines, ctssGMean, ctssGFit), n: fd(ctssNLines, ctssNMean, ctssNFit),
    gene: 'CTSS', color: BLUE, desc: '(M14.48 inflammation)', geneY: 204, descY: 220 },
  { x0: 412, x1: 580, gap: 497, y0: 74, y1: 193, slotsN: 16, header: 63,
    g: fd(abhd5aGLines, abhd5aGMean, abhd5aGFit), n: fd(abhd5aNLines, abhd5aNMean, abhd5aNFit),
    gene: 'ABHD5', color: RED, desc: '(M16.44 protein synthesis)', geneY: 204, descY: 220 },
  { x0: 603, x1: 772, gap: 687, y0: 74, y1: 193, slotsN: 16, header: 63,
    g: fd(ctssaGLines, ctssaGMean, ctssaGFit), n: fd(ctssaNLines, ctssaNMean, ctssaNFit),
    gene: 'CTSS', color: BLUE, desc: '(M14.48 inflammation)', geneY: 204, descY: 220 },

  { x0: 17, x1: 183, gap: 101, y0: 239, y1: 355, slotsN: 14,
    g: fd(ifi16GLines, ifi16GMean, ifi16GFit), n: fd(ifi16NLines, ifi16NMean, ifi16NFit),
    gene: 'IFI16', color: RED, desc: '(M13.17 interferon)', geneY: 367, descY: 382 },
  { x0: 207, x1: 378, gap: 291, y0: 239, y1: 355, slotsN: 14,
    g: fd(ifi44GLines, ifi44GMean, ifi44GFit), n: fd(ifi44NLines, ifi44NMean, ifi44NFit),
    gene: 'IFI44', color: BLUE, desc: '(M8.3 type 1 interferon)', geneY: 367, descY: 382 },
  { x0: 418, x1: 585, gap: 503, y0: 239, y1: 355, slotsN: 16,
    g: fd(hbbaGLines, hbbaGMean, hbbaGFit), n: fd(hbbaNLines, hbbaNMean, hbbaNFit),
    gene: 'HBB', color: BLUE, desc: '(M10.2 protein synthesis)', geneY: 367, descY: 382 },
  { x0: 604, x1: 773, gap: 689, y0: 239, y1: 355, slotsN: 16,
    g: fd(ifi44aGLines, ifi44aGMean, ifi44aGFit), n: fd(ifi44aNLines, ifi44aNMean, ifi44aNFit),
    gene: 'IFI44', color: BLUE, desc: '(M8.3 type 1 interferon)', geneY: 367, descY: 382 },

  { x0: 17, x1: 183, gap: 101, y0: 403, y1: 520, slotsN: 14,
    g: fd(oaz1GLines, oaz1GMean, oaz1GFit), n: fd(oaz1NLines, oaz1NMean, oaz1NFit),
    gene: 'OAZ1', color: BLUE, desc: '(M10.2 protein synthesis)', geneY: 533, descY: 548 },
  { x0: 207, x1: 377, gap: 292, y0: 403, y1: 520, slotsN: 14,
    g: fd(rps12GLines, rps12GMean, rps12GFit), n: fd(rps12NLines, rps12NMean, rps12NFit),
    gene: 'RPS12', color: BLUE, desc: '(M10.2 protein synthesis)', geneY: 533, descY: 548 },
  { x0: 419, x1: 585, gap: 503, y0: 403, y1: 520, slotsN: 16,
    g: fd(oaz1aGLines, oaz1aGMean, oaz1aGFit), n: fd(oaz1aNLines, oaz1aNMean, oaz1aNFit),
    gene: 'OAZ1', color: BLUE, desc: '(M10.2 protein synthesis)', geneY: 533, descY: 548 },
  { x0: 607, x1: 775, gap: 693, y0: 403, y1: 520, slotsN: 16,
    g: fd(rps12aGLines, rps12aGMean, rps12aGFit), n: fd(rps12aNLines, rps12aNMean, rps12aNFit),
    gene: 'RPS12', color: BLUE, desc: '(M10.2 protein synthesis)', geneY: 533, descY: 548 },

  { x0: 16, x1: 183, gap: 100, y0: 572, y1: 687, slotsN: 14,
    g: fd(txnipGLines, txnipGMean, txnipGFit), n: fd(txnipNLines, txnipNMean, txnipNFit),
    gene: 'TXNIP', color: BLUE, desc: '(M15.35 neutrophils)', geneY: 698, descY: 714 },
  { x0: 203, x1: 376, gap: 288, y0: 573, y1: 687, slotsN: 14,
    g: fd(defa4GLines, defa4GMean, defa4GFit), n: fd(defa4NLines, defa4NMean, defa4NFit),
    gene: 'DEFA4', color: BLUE, desc: '(M10.4 neutr. activation)', geneY: 698, descY: 714 },
  { x0: 413, x1: 580, gap: 497, y0: 572, y1: 687, slotsN: 16,
    g: fd(txnipaGLines, txnipaGMean, txnipaGFit), n: fd(txnipaNLines, txnipaNMean, txnipaNFit),
    gene: 'TXNIP', color: BLUE, desc: '(M15.35 neutrophils)', geneY: 698, descY: 714 },
  { x0: 606, x1: 775, gap: 692, y0: 572, y1: 687, slotsN: 16,
    g: fd(rbm38aGLines, rbm38aGMean, rbm38aGFit), n: fd(rbm38aNLines, rbm38aNMean, rbm38aNFit),
    gene: 'RBM38', color: RED, desc: '(M14.53 erythroid cells)', geneY: 698, descY: 714 },

  { x0: 114, x1: 270, gap: 192, y0: 843, y1: 955, slotsN: 16, header: 828,
    g: fd(m101GLines, m101GMean, m101GFit), n: fd(m101NLines, m101NMean, m101NFit),
    gene: 'M10.1 IFN', color: RED, geneY: 972 },
  { x0: 289, x1: 452, gap: 371, y0: 843, y1: 955, slotsN: 16, header: 828,
    g: fd(m104GLines, m104GMean, m104GFit), n: fd(m104NLines, m104NMean, m104NFit),
    gene: 'M10.4 NEUTR. ACTIV.', color: BLUE, geneY: 972 },
  { x0: 530, x1: 700, gap: 615, y0: 843, y1: 955, slotsN: 16, header: 828,
    g: fd(m101aGLines, m101aGMean, m101aGFit), n: fd(m101aNLines, m101aNMean, m101aNFit),
    gene: 'M10.1 IFN', color: RED, geneY: 972 },
];

const titles = [
  { text: 'GENES -GVHD vs NO GVHD', cx: 195, cy: 32 },
  { text: 'GENES -ACTIVE GVHD vs NO GVHD', cx: 588, cy: 32 },
  { text: 'MODULES -GVHD vs NO GVHD', cx: 276, cy: 785 },
  { text: 'MODULES -ACTIVE', cx: 612, cy: 780 },
  { text: 'GVHD vs NO GVHD', cx: 611, cy: 801 },
];

function buildRows(f: FacetData) {
  const n = Math.max(f.mean.length, f.fit.length, ...f.lines.map((l) => l.length));
  const rows: Record<string, number | null>[] = [];
  for (let i = 0; i < n; i++) {
    const row: Record<string, number | null> = { t: i, mean: f.mean[i] ?? null, fit: f.fit[i] ?? null };
    f.lines.forEach((l, j) => { row['p' + j] = l[i] ?? null; });
    rows.push(row);
  }
  return rows;
}

const renderTri = (props: any) => {
  const { cx, cy, index } = props;
  if (cx == null || cy == null || Number.isNaN(cy)) return <g key={`tri-${index}`} />;
  return (
    <path
      key={`tri-${index}`}
      d={`M${cx},${cy - 1.9}L${cx + 1.7},${cy + 1.2}L${cx - 1.7},${cy + 1.2}Z`}
      fill="#000"
      stroke="#fff"
      strokeWidth={0.3}
    />
  );
};

// grid positions from the axis scale, falling back to a linear map of the plot box
const gridPositions = (
  axis: any, offset: any, values: number[], domain: [number, number], vertical: boolean,
) => {
  if (axis && typeof axis.scale === 'function') return values.map((v) => axis.scale(v));
  const [d0, d1] = domain;
  return values.map((v) => {
    const r = (v - d0) / (d1 - d0);
    return vertical ? offset.left + r * offset.width : offset.top + (1 - r) * offset.height;
  });
};

function Facet({ data, slots, width, height, withY }: {
  data: FacetData; slots: number; width: number; height: number; withY: boolean;
}) {
  const rows = buildRows(data);
  const xTicks: number[] = [];
  for (let t = 0; t < slots; t += 2) xTicks.push(t);
  const xDomain: [number, number] = [-0.6, slots - 0.4];
  return (
    <ComposedChart width={width} height={height} data={rows} margin={{ top: 0, right: 0, bottom: 0, left: 0 }}>
      <CartesianGrid
        fill="#ebebeb" fillOpacity={1} stroke="#ffffff" strokeWidth={1}
        horizontalCoordinatesGenerator={(p: any) => gridPositions(p.yAxis, p.offset, Y_TICKS, Y_DOMAIN, false)}
        verticalCoordinatesGenerator={(p: any) => gridPositions(p.xAxis, p.offset, xTicks, xDomain, true)}
      />
      <XAxis
        type="number" dataKey="t" domain={xDomain} ticks={xTicks}
        allowDataOverflow tick={false} height={3} tickSize={2}
        axisLine={false} tickLine={{ stroke: '#9a9a9a' }}
      />
      <YAxis
        type="number" domain={Y_DOMAIN} ticks={Y_TICKS} allowDataOverflow
        tick={false} width={withY ? 4 : 0} hide={!withY} tickSize={2}
        axisLine={false} tickLine={{ stroke: '#9a9a9a' }}
      />
      {data.lines.map((_l, j) => (
        <Line
          key={j} dataKey={'p' + j} type="linear" stroke="#2a2a2a" strokeWidth={0.55}
          strokeOpacity={0.85} dot={false} connectNulls isAnimationActive={false}
        />
      ))}
      <Line dataKey="fit" type="monotone" stroke="#3366ff" strokeWidth={1.2} dot={false} connectNulls isAnimationActive={false} />
      <Line dataKey="mean" stroke="none" dot={renderTri} activeDot={false} isAnimationActive={false} />
    </ComposedChart>
  );
}

const labelBase: React.CSSProperties = {
  position: 'absolute', transform: 'translate(-50%, -50%)', whiteSpace: 'nowrap',
  fontFamily: '"Liberation Sans", Arial, sans-serif', fontWeight: 700, lineHeight: 1,
};

function Panel({ p }: { p: PanelSpec }) {
  const stripH = 5;
  const leftW = p.gap - 1 - p.x0;
  const rightW = p.x1 - (p.gap + 1);
  const plotH = p.y1 - p.y0 - stripH;
  const cx = (p.x0 + p.x1) / 2;
  return (
    <>
      <div style={{ position: 'absolute', left: p.x0, top: p.y0, width: leftW, height: stripH, background: '#d9d9d9' }} />
      <div style={{ position: 'absolute', left: p.gap + 1, top: p.y0, width: rightW, height: stripH, background: '#d9d9d9' }} />
      <div style={{ position: 'absolute', left: p.x0 - 4, top: p.y0 + stripH }}>
        <Facet data={p.g} slots={16} width={leftW + 4} height={plotH + 3} withY />
      </div>
      <div style={{ position: 'absolute', left: p.gap + 1, top: p.y0 + stripH }}>
        <Facet data={p.n} slots={p.slotsN} width={rightW} height={plotH + 3} withY={false} />
      </div>
      {p.header != null && (
        <>
          <div style={{ ...labelBase, left: (p.x0 + p.gap) / 2, top: p.header, fontSize: 15 }}>GVHD</div>
          <div style={{ ...labelBase, left: (p.gap + p.x1) / 2, top: p.header, fontSize: 15 }}>NO GVHD</div>
        </>
      )}
      <div style={{ ...labelBase, left: cx, top: p.geneY, fontSize: 13, color: p.color }}>{p.gene}</div>
      {p.desc && (
        <div style={{ ...labelBase, left: cx, top: p.descY, fontSize: 12, color: '#000' }}>{p.desc}</div>
      )}
    </>
  );
}

export default function App() {
  return (
    <div style={{ position: 'absolute', left: 0, top: 0, width: 790, height: 995, background: '#fff', overflow: 'hidden' }}>
      <div style={{ position: 'absolute', left: 24, top: 4, fontFamily: '"Liberation Serif", serif', fontSize: 20 }}>A</div>
      <div style={{ position: 'absolute', left: 24, top: 758, fontFamily: '"Liberation Serif", serif', fontSize: 20 }}>B</div>
      {titles.map((t) => (
        <div
          key={t.text + t.cy}
          style={{
            position: 'absolute', left: t.cx, top: t.cy, whiteSpace: 'nowrap', lineHeight: 1,
            transform: 'translate(-50%, -50%) scaleX(0.8)', color: RED,
            fontFamily: '"Liberation Serif", serif', fontSize: 18, letterSpacing: 3,
          }}
        >
          {t.text}
        </div>
      ))}
      {panels.map((p, i) => <Panel key={i} p={p} />)}
    </div>
  );
}
